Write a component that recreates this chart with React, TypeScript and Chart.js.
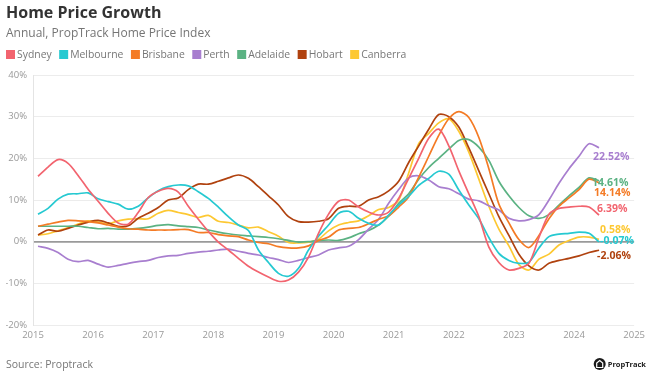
import React, { useEffect, useRef } from 'react';
import { Chart, registerables } from 'chart.js';

Chart.register(...registerables);

// Monthly-ish series sampled every two months, Feb 2015 .. Jun 2024
const START_YEAR = 2015 + 1 / 12;
const STEP_YEARS = 1 / 6;

const cities = ['Sydney', 'Melbourne', 'Brisbane', 'Perth', 'Adelaide', 'Hobart', 'Canberra'];
const colors = ['#F2646F', '#26C9D1', '#F47B25', '#A87ECF', '#5BB283', '#B0420F', '#FDC832'];

const sydney = [15.7, 17.9, 19.7, 18.8, 15.9, 12.6, 9.7, 6.8, 4.5, 4.2, 7.0, 10.6, 12.1, 12.8, 11.9, 8.5, 5.4, 2.5, -0.1, -2.0, -4.0, -5.9, -7.3, -8.5, -9.5, -9.2, -7.3, -3.7, 2.0, 6.6, 9.7, 10.0, 8.3, 7.1, 6.4, 7.1, 10.4, 15.2, 20.0, 24.8, 27.0, 23.0, 17.0, 11.5, 6.0, -1.3, -5.0, -6.8, -6.4, -5.2, 1.0, 6.6, 8.0, 8.3, 8.5, 8.3, 6.39];
const melbourne = [6.6, 8.0, 10.2, 11.4, 11.5, 11.7, 10.3, 9.6, 9.0, 7.8, 8.5, 10.5, 12.2, 13.2, 13.6, 13.4, 12.0, 10.4, 8.3, 6.0, 4.0, 2.7, -2.0, -5.0, -7.6, -8.3, -6.4, -2.0, 1.3, 4.0, 6.8, 7.3, 5.6, 4.4, 4.0, 6.4, 8.8, 10.9, 13.5, 15.2, 16.9, 16.2, 12.4, 8.8, 5.5, 1.0, -2.8, -4.5, -5.2, -4.9, -1.5, 1.2, 1.8, 2.0, 2.3, 2.0, -0.07];
const brisbane = [3.7, 4.2, 4.7, 5.1, 5.0, 4.8, 4.5, 4.0, 3.5, 3.1, 3.0, 2.8, 2.8, 2.8, 2.9, 2.9, 2.2, 2.2, 1.7, 1.4, 1.2, 0.4, -0.2, -0.5, -1.2, -1.5, -1.5, -1.0, 0.3, 1.1, 2.8, 3.2, 3.4, 4.3, 5.4, 6.2, 8.3, 10.8, 15.5, 20.5, 25.5, 29.5, 31.2, 29.8, 25.0, 17.5, 9.0, 4.5, 0.5, -1.4, 1.5, 5.5, 8.5, 10.5, 12.5, 15.0, 14.14];
const perth = [-1.1, -1.6, -2.6, -4.2, -4.8, -4.5, -5.4, -6.1, -5.7, -5.2, -4.8, -4.5, -3.8, -3.4, -3.3, -2.8, -2.5, -2.3, -2.0, -1.8, -2.3, -2.8, -3.2, -3.8, -4.3, -5.0, -4.5, -3.8, -3.2, -2.0, -1.5, -1.1, 0.5, 3.0, 5.4, 9.2, 12.5, 15.3, 15.8, 14.8, 13.2, 12.7, 11.5, 10.2, 9.8, 8.6, 7.6, 5.6, 5.0, 5.3, 6.5, 10.0, 14.0, 17.5, 20.5, 23.5, 22.52];
const adelaide = [3.7, 3.7, 3.7, 3.7, 3.7, 3.4, 3.1, 3.2, 3.0, 3.0, 3.2, 3.5, 3.9, 4.1, 3.8, 3.6, 3.4, 2.8, 2.3, 1.9, 1.6, 1.4, 1.2, 1.0, 0.7, 0.3, -0.1, 0.0, 0.3, 0.4, 0.3, 0.9, 1.9, 2.7, 4.0, 6.1, 9.2, 11.5, 15.0, 17.8, 20.0, 22.2, 24.3, 24.5, 22.7, 19.5, 14.5, 11.0, 8.2, 6.2, 5.6, 6.5, 8.8, 11.0, 13.0, 15.3, 14.61];
const hobart = [1.6, 2.8, 2.5, 3.2, 4.0, 4.7, 5.1, 4.5, 3.7, 3.8, 5.6, 6.8, 8.2, 10.0, 10.5, 12.5, 13.8, 13.8, 14.5, 15.3, 16.0, 15.2, 13.2, 11.0, 8.8, 6.0, 4.8, 4.7, 4.9, 5.5, 8.0, 8.5, 8.5, 10.0, 10.8, 12.2, 14.5, 19.0, 23.0, 27.0, 30.5, 30.0, 27.5, 22.5, 17.0, 11.5, 6.0, 1.5, -3.0, -5.8, -6.8, -5.2, -4.5, -4.0, -3.4, -2.6, -2.06];
const canberra = [1.6, 1.9, 2.6, 3.3, 4.2, 5.0, 4.7, 4.3, 5.0, 5.4, 5.5, 5.5, 6.8, 7.5, 7.0, 6.5, 5.8, 6.3, 4.9, 4.6, 4.0, 3.3, 3.5, 2.4, 1.3, -0.2, -0.3, -0.1, 0.6, 2.6, 4.0, 4.6, 5.0, 6.2, 7.7, 8.2, 10.0, 16.5, 23.5, 26.0, 28.5, 29.5, 26.5, 21.5, 15.0, 8.5, 3.0, -1.0, -5.5, -6.8, -4.2, -3.0, -0.8, 0.3, 1.1, 1.1, 0.58];

const seriesValues = [sydney, melbourne, brisbane, perth, adelaide, hobart, canberra];

const xTickYears = [2015, 2025];
const yTickRange = [-20, 40];

// end-label nudges (style only)
const labelDx = [-2, 1, -5, -6, -7, -2, 1];
const labelDy = [-6, -1, 10, 9, 2, 6, -9];

const FONT = "'Open Sans', 'DejaVu Sans', sans-serif";

const decorPlugin = {
  id: 'decor',
  afterDraw(chart: any) {
    const ctx = chart.ctx;
    ctx.save();
    // Title
    ctx.textAlign = 'left';
    ctx.textBaseline = 'alphabetic';
    ctx.fillStyle = '#333333';
    ctx.font = `bold 16px ${FONT}`;
    ctx.fillText('Home Price Growth', 6, 18);
    ctx.fillStyle = '#757575';
    ctx.font = `12px ${FONT}`;
    ctx.fillText('Annual, PropTrack Home Price Index', 6, 37);
    // Legend
    ctx.font = `10.4px ${FONT}`;
    ctx.textBaseline = 'middle';
    let x = 6;
    cities.forEach((name, i) => {
      ctx.fillStyle = colors[i];
      ctx.fillRect(x, 50, 9, 9);
      ctx.fillStyle = '#777777';
      ctx.fillText(name, x + 11, 55);
      x += 11 + ctx.measureText(name).width + 7.5;
    });
    // End labels
    ctx.font = `bold 10.5px ${FONT}`;
    chart.data.datasets.forEach((ds: any, i: number) => {
      const meta = chart.getDatasetMeta(i);
      const pt = meta.data[meta.data.length - 1];
      if (!pt) return;
      const v = ds.data[ds.data.length - 1].y;
      ctx.fillStyle = colors[i];
      ctx.fillText(v.toFixed(2) + '%', pt.x + labelDx[i], pt.y + labelDy[i]);
    });
    // Source
    ctx.fillStyle = '#777777';
    ctx.font = `10.5px ${FONT}`;
    ctx.textBaseline = 'alphabetic';
    ctx.fillText('Source: Proptrack', 6, 368);
    // Logo
    ctx.font = `bold 7.5px ${FONT}`;
    const logoText = 'PropTrack';
    const tw = ctx.measureText(logoText).width;
    const tx = 646 - tw;
    const cx = tx - 8;
    ctx.fillStyle = '#1a1a1a';
    ctx.beginPath();
    ctx.arc(cx, 364, 6, 0, Math.PI * 2);
    ctx.fill();
    ctx.strokeStyle = '#ffffff';
    ctx.lineWidth = 1.2;
    ctx.beginPath();
    ctx.moveTo(cx - 3, 367.5);
    ctx.lineTo(cx - 3, 363);
    ctx.lineTo(cx, 360.5);
    ctx.lineTo(cx + 3, 363);
    ctx.lineTo(cx + 3, 367.5);
    ctx.closePath();
    ctx.stroke();
    ctx.fillStyle = '#222222';
    ctx.textBaseline = 'middle';
    ctx.fillText(logoText, tx, 364.5);
    ctx.restore();
  },
};

export default function App() {
  const canvasRef = useRef<HTMLCanvasElement | null>(null);

  useEffect(() => {
    document.body.style.margin = '0';
    const canvas = canvasRef.current;
    if (!canvas) return;
    const datasets = cities.map((name, i) => ({
      label: name,
      data: seriesValues[i].map((v, k) => ({ x: START_YEAR + k * STEP_YEARS, y: v })),
      borderColor: colors[i],
      backgroundColor: colors[i],
      borderWidth: 1.7,
      pointRadius: 0,
      tension: 0.3,
      fill: false,
    }));
    const chart = new Chart(canvas, {
      type: 'line',
      data: { datasets },
      options: {
        responsive: false,
        animation: false,
        layout: { padding: { top: 75, left: 6, right: 13, bottom: 30 } },
        plugins: {
          legend: { display: false },
          title: { display: false },
          tooltip: { enabled: false },
        },
        scales: {
          x: {
            type: 'linear',
            min: xTickYears[0],
            max: xTickYears[1],
            grid: { display: false, drawTicks: false },
            border: { display: false },
            ticks: {
              stepSize: 1,
              padding: 5,
              color: '#999999',
              font: { family: FONT, size: 9.5 },
              maxRotation: 0,
              callback: (v: any) => String(v),
            },
            afterFit: (s: any) => { s.height = 19; },
          },
          y: {
            min: yTickRange[0],
            max: yTickRange[1],
            grid: {
              drawTicks: false,
              color: (c: any) => (c.tick && c.tick.value === 0 ? '#9a9a9a' : '#ececec'),
              lineWidth: (c: any) => (c.tick && c.tick.value === 0 ? 1.8 : 1),
            },
            border: { display: true, color: '#e4e4e4' },
            ticks: {
              stepSize: 10,
              padding: 6,
              color: '#999999',
              font: { family: FONT, size: 9.5 },
              callback: (v: any) => v + '%',
            },
            afterFit: (s: any) => { s.width = 27; },
          },
        },
      },
      plugins: [decorPlugin],
    });
    return () => chart.destroy();
  }, []);

  return (
    <div style={{ position: 'fixed', left: 0, top: 0, width: 650, height: 374, background: '#fff' }}>
      <canvas ref={canvasRef} width={650} height={374} style={{ display: 'block' }} />
    </div>
  );
}
